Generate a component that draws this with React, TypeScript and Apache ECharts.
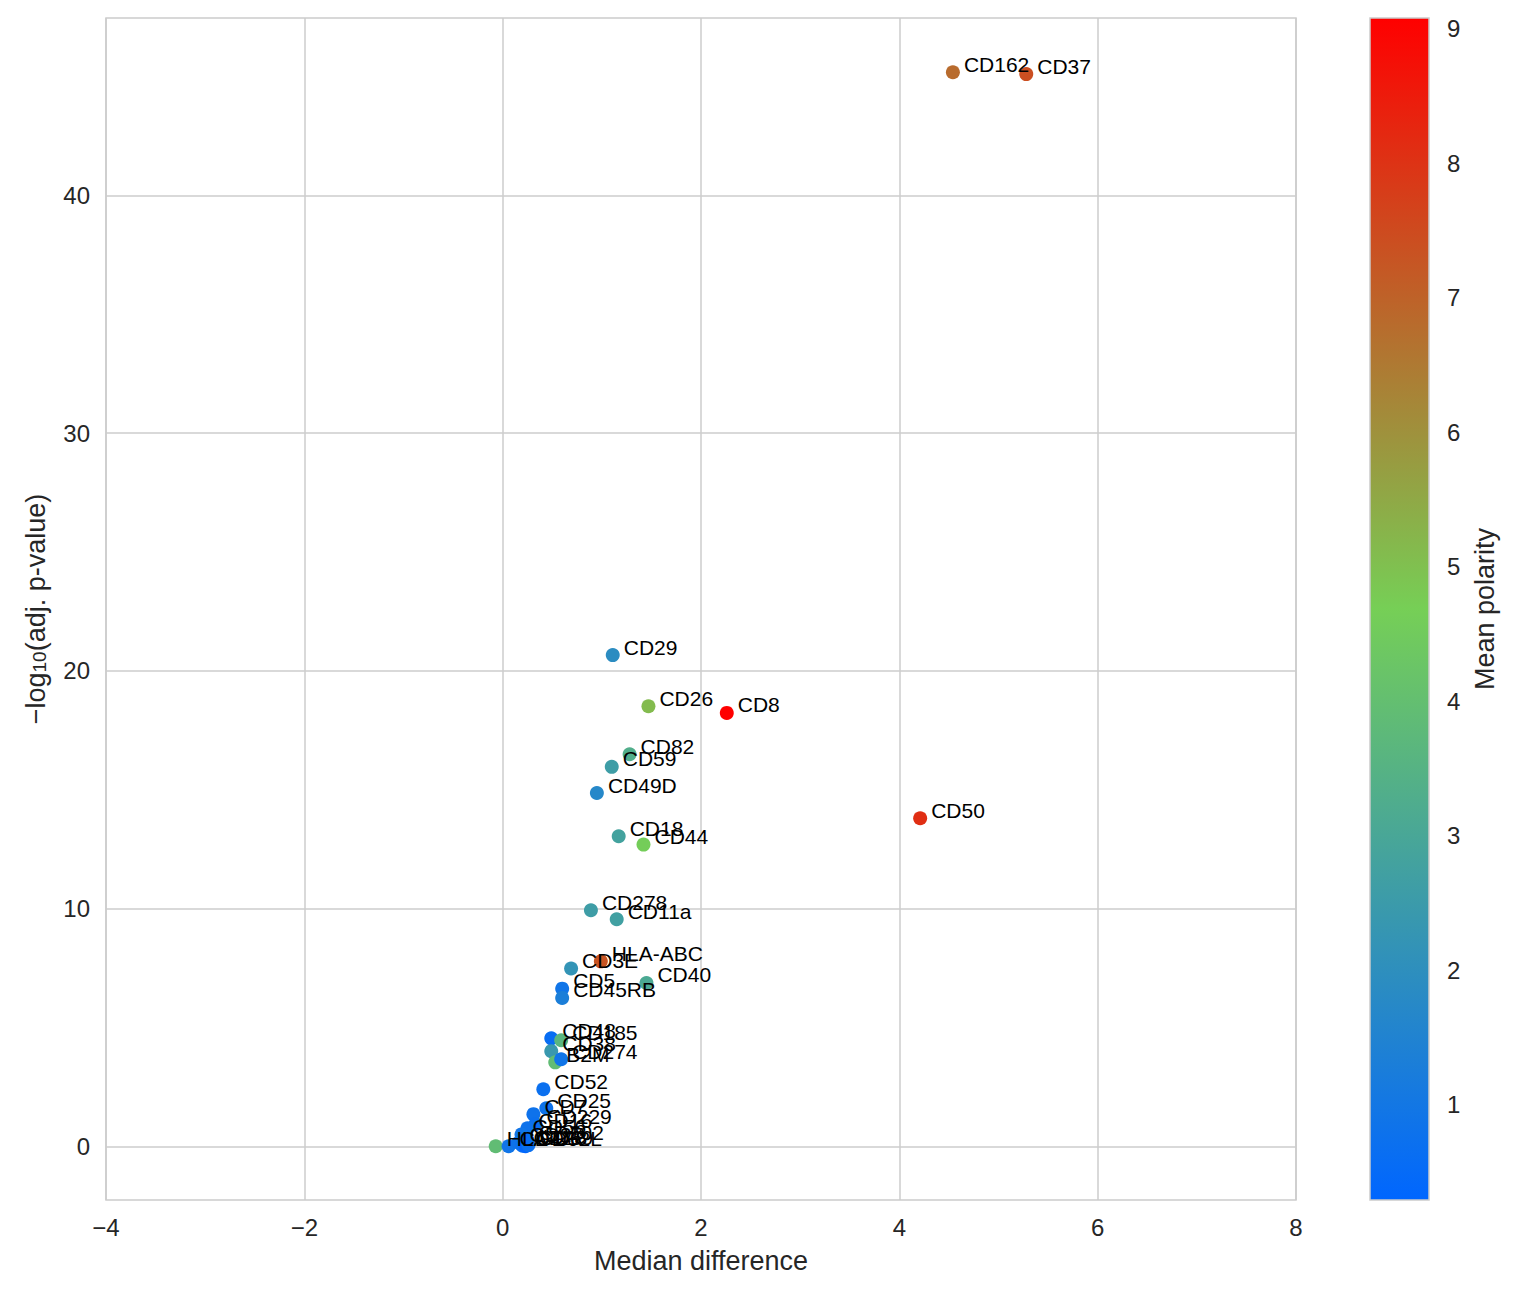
import React, { useEffect, useRef } from "react";
import * as echarts from "echarts";

const markers = [
  "CD162", "CD37", "CD29", "CD26", "CD8", "CD82", "CD59", "CD49D", "CD50", "CD18",
  "CD44", "CD278", "CD11a", "HLA-ABC", "CD3E", "CD40", "CD5", "CD45RB", "CD48", "CD185",
  "CD38", "B2M", "CD274", "CD52", "CD25", "CD7", "CD229", "CD16", "CD56", "HLA-DR",
  "CD4", "CD27", "CD28", "CD62L", "CD69", "CD102",
];
const medianDiff = [
  4.54, 5.28, 1.11, 1.47, 2.26, 1.28, 1.10, 0.95, 4.21, 1.17,
  1.42, 0.89, 1.15, 0.99, 0.69, 1.45, 0.60, 0.60, 0.49, 0.59,
  0.49, 0.53, 0.59, 0.41, 0.44, 0.31, 0.33, 0.25, 0.19, -0.07,
  0.06, 0.16, 0.20, 0.23, 0.26, 0.25,
];
const negLogP = [
  45.18, 45.10, 20.66, 18.51, 18.23, 16.49, 15.96, 14.86, 13.80, 13.04,
  12.69, 9.93, 9.55, 7.78, 7.48, 6.87, 6.63, 6.24, 4.54, 4.46,
  4.00, 3.53, 3.66, 2.40, 1.60, 1.35, 0.93, 0.76, 0.50, 0.00,
  0.00, 0.15, 0.02, 0.00, 0.05, 0.25,
];
const meanPolarity = [
  6.8, 7.4, 1.9, 5.1, 9.08, 3.3, 2.6, 1.7, 8.1, 2.8,
  4.6, 2.6, 2.7, 7.3, 2.2, 3.1, 0.9, 1.3, 0.6, 3.6,
  2.4, 3.9, 0.9, 0.7, 0.8, 0.8, 0.7, 0.8, 0.9, 3.9,
  0.9, 0.8, 0.7, 0.29, 0.7, 0.6,
];

const xTicks = [-4, -2, 0, 2, 4, 6, 8];
const yTicks = [0, 10, 20, 30, 40];
const colorbarTicks = [1, 2, 3, 4, 5, 6, 7, 8, 9];
const colormap = ["#0066ff", "#76cf56", "#ff0000"];
const polarityMin = 0.29;
const polarityMax = 9.08;
const yMin = -2.26;
const yMax = 47.46;

const FONT = "'Liberation Sans', Arial, Helvetica, sans-serif";
const DARK = "#262626";
const GRID = "#cccccc";

const fmtMinus = (v: number) => (v < 0 ? "\u2212" + Math.abs(v) : String(v));

export default function App() {
  const ref = useRef<HTMLDivElement>(null);

  useEffect(() => {
    if (!ref.current) return;
    const chart = echarts.init(ref.current, undefined, { renderer: "svg" });
    const data = markers.map((m, i) => [medianDiff[i], negLogP[i], meanPolarity[i], m]);

    const option: any = {
      animation: false,
      backgroundColor: "#ffffff",
      textStyle: { fontFamily: FONT },
      grid: [
        { left: 98, top: 10, width: 1190, height: 1182, show: true, borderColor: GRID, borderWidth: 1.5, backgroundColor: "transparent" },
        { left: 1362, top: 10, width: 59, height: 1182, show: false },
      ],
      xAxis: [
        {
          type: "value",
          gridIndex: 0,
          min: xTicks[0],
          max: xTicks[xTicks.length - 1],
          interval: 2,
          name: "Median difference",
          nameLocation: "middle",
          nameGap: 47,
          nameTextStyle: { fontSize: 27, color: DARK, fontFamily: FONT },
          axisLine: { show: false },
          axisTick: { show: false },
          axisLabel: { fontSize: 24, color: DARK, margin: 15, fontFamily: FONT, formatter: fmtMinus },
          splitLine: { show: true, lineStyle: { color: GRID, width: 1.5 } },
        },
        { type: "value", gridIndex: 1, min: 0, max: 1, show: false },
      ],
      yAxis: [
        {
          type: "value",
          gridIndex: 0,
          min: yMin,
          max: yMax,
          name: "\u2212log{sub|10}(adj. p-value)",
          nameLocation: "middle",
          nameGap: 57,
          nameRotate: 90,
          nameTextStyle: {
            fontSize: 27,
            color: DARK,
            fontFamily: FONT,
            rich: { sub: { fontSize: 19, color: DARK, fontFamily: FONT, verticalAlign: "bottom", padding: [8, 0, 0, 0] } },
          },
          axisLine: { show: false },
          axisTick: { show: false, customValues: yTicks },
          axisLabel: { fontSize: 24, color: DARK, margin: 16, fontFamily: FONT, customValues: yTicks, formatter: fmtMinus },
          splitLine: { show: true, lineStyle: { color: GRID, width: 1.5 } },
        },
        {
          type: "value",
          gridIndex: 1,
          position: "right",
          min: polarityMin,
          max: polarityMax,
          name: "Mean polarity",
          nameLocation: "middle",
          nameGap: 42,
          nameRotate: 90,
          nameTextStyle: { fontSize: 27, color: DARK, fontFamily: FONT },
          axisLine: { show: false },
          axisTick: { show: true, inside: false, length: 8, customValues: colorbarTicks, lineStyle: { color: DARK, width: 1.5 } },
          axisLabel: { fontSize: 24, color: DARK, margin: 18, fontFamily: FONT, customValues: colorbarTicks },
          splitLine: { show: false },
        },
      ],
      visualMap: {
        type: "continuous",
        show: false,
        min: polarityMin,
        max: polarityMax,
        dimension: 2,
        seriesIndex: 0,
        inRange: { color: colormap },
      },
      series: [
        {
          type: "scatter",
          xAxisIndex: 0,
          yAxisIndex: 0,
          data,
          symbolSize: 14,
          itemStyle: { opacity: 1 },
          label: {
            show: true,
            position: "right",
            distance: 4,
            offset: [0, -8],
            color: "#000000",
            fontSize: 21,
            fontFamily: FONT,
            formatter: (p: any) => p.data[3],
          },
          emphasis: { disabled: true },
          z: 3,
        },
        {
          type: "custom",
          xAxisIndex: 1,
          yAxisIndex: 1,
          silent: true,
          data: [[0, polarityMin]],
          renderItem: (_params: any, api: any) => {
            const p0 = api.coord([0, polarityMax]);
            const p1 = api.coord([1, polarityMin]);
            return {
              type: "rect",
              shape: { x: p0[0], y: p0[1], width: p1[0] - p0[0], height: p1[1] - p0[1] },
              style: {
                fill: new echarts.graphic.LinearGradient(0, 0, 0, 1, [
                  { offset: 0, color: colormap[2] },
                  { offset: 0.5, color: colormap[1] },
                  { offset: 1, color: colormap[0] },
                ]),
                stroke: GRID,
                lineWidth: 1.5,
              },
            };
          },
        },
      ],
    };

    chart.setOption(option);
    return () => chart.dispose();
  }, []);

  return <div ref={ref} style={{ width: 1502, height: 1285 }} />;
}
